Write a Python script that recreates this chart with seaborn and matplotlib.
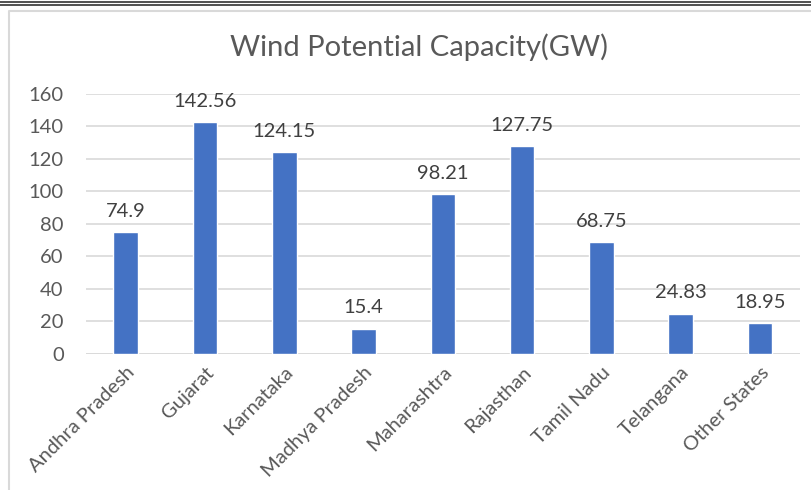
import matplotlib
matplotlib.use("Agg")
import matplotlib.pyplot as plt
import matplotlib.lines as mlines
import seaborn as sns
import pandas as pd

states = ["Andhra Pradesh", "Gujarat", "Karnataka", "Madhya Pradesh", "Maharashtra",
          "Rajasthan", "Tamil Nadu", "Telangana", "Other States"]
capacity_gw = [74.9, 142.56, 124.15, 15.4, 98.21, 127.75, 68.75, 24.83, 18.95]
y_ticks = [0, 20, 40, 60, 80, 100, 120, 140, 160]
title = "Wind Potential Capacity(GW)"

sns.set_theme(style="white")
plt.rcParams["font.family"] = ["Lato", "DejaVu Sans"]

df = pd.DataFrame({"state": states, "gw": capacity_gw})

fig = plt.figure(figsize=(8.11, 4.90), dpi=100)
ax = fig.add_axes([0.106, 0.2776, 0.880, 0.5306])

sns.barplot(data=df, x="state", y="gw", color="#4472C4", width=0.31,
            saturation=1, ax=ax, zorder=3)

ax.set_ylim(0, 160)
ax.set_yticks(y_ticks)
ax.set_xlim(-0.5, len(states) - 0.5)
ax.yaxis.grid(True, color="#D9D9D9", linewidth=1.2, zorder=0)
ax.set_axisbelow(True)
for s in ax.spines.values():
    s.set_visible(False)
ax.axhline(0, color="#D9D9D9", linewidth=1.2, zorder=2)
ax.set_xlabel("")
ax.set_ylabel("")
ax.tick_params(axis="y", length=0, pad=16, labelsize=14.5, labelcolor="#595959")
ax.tick_params(axis="x", length=0, pad=7, labelsize=14.5, labelcolor="#595959")
ax.set_xticks(range(len(states)))
ax.set_xticklabels(states, rotation=45, ha="right", rotation_mode="anchor")

for i, v in enumerate(capacity_gw):
    ax.annotate(f"{v:g}", (i, v), xytext=(0, 9), textcoords="offset points",
                ha="center", va="bottom", fontsize=14.5, color="#404040")

fig.text(0.517, 0.904, title, ha="center", va="center", fontsize=21, color="#595959")

# page rules and chart frame
for yy in (0.996, 0.989):
    fig.add_artist(mlines.Line2D([0, 1], [yy, yy], color="#333333", linewidth=1.2,
                                 transform=fig.transFigure))
fig.add_artist(mlines.Line2D([0.0105, 0.0105, 1.0], [0.0, 0.978, 0.978], color="#D9D9D9",
                             linewidth=1.5, transform=fig.transFigure))

fig.savefig("out.png", dpi=100)
